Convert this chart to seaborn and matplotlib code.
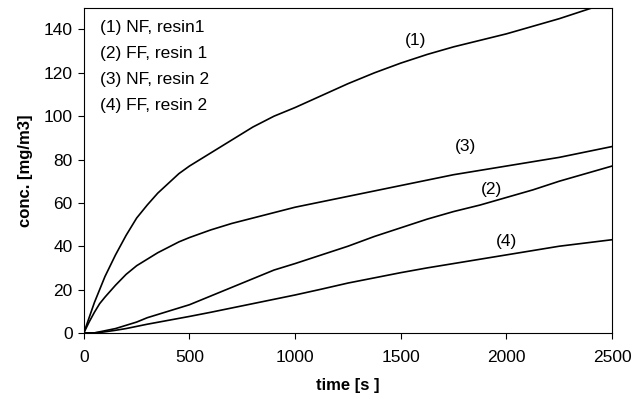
import numpy as np
import pandas as pd
import seaborn as sns
import matplotlib
matplotlib.use('Agg')
import matplotlib.pyplot as plt

# time points [s] and concentrations [mg/m3]
time = [0, 25, 50, 75, 100, 150, 200, 250, 300, 350, 400, 450, 500, 600, 700,
        800, 900, 1000, 1125, 1250, 1375, 1500, 1625, 1750, 1875, 2000, 2125,
        2250, 2375, 2500]
nf_resin1 = [0, 7, 14, 20, 26, 36, 45, 53, 59, 64.5, 69, 73.5, 77, 83, 89,
             95, 100, 104, 109.5, 115, 120, 124.5, 128.5, 132, 135, 138, 141.5,
             145, 149, 153]
ff_resin1 = [0, 0, 0, 0.5, 1, 2, 3.5, 5, 7, 8.5, 10, 11.5, 13, 17, 21,
             25, 29, 32, 36, 40, 44.5, 48.5, 52.5, 56, 59, 62.5, 66,
             70, 73.5, 77]
nf_resin2 = [0, 5, 9.5, 13.5, 16.5, 22, 27, 31, 34, 37, 39.5, 42, 44, 47.5, 50.5,
             53, 55.5, 58, 60.5, 63, 65.5, 68, 70.5, 73, 75, 77, 79,
             81, 83.5, 86]
ff_resin2 = [0, 0, 0, 0.2, 0.5, 1.2, 2, 3, 4, 4.9, 5.8, 6.7, 7.6, 9.5, 11.5,
             13.5, 15.5, 17.5, 20.2, 23, 25.4, 27.8, 30, 32, 34, 36, 38,
             40, 41.5, 43]

series_names = ['(1) NF, resin1', '(2) FF, resin 1', '(3) NF, resin 2', '(4) FF, resin 2']
curve_tags = ['(1)', '(2)', '(3)', '(4)']
tag_pos = [(1570, 135), (1930, 66), (1805, 86), (2000, 42)]

df = pd.DataFrame({
    'time': time * 4,
    'conc': nf_resin1 + ff_resin1 + nf_resin2 + ff_resin2,
    'series': np.repeat(series_names, len(time)),
})

sns.set_theme(style='ticks')
plt.rcParams['font.family'] = ['Liberation Sans', 'DejaVu Sans']
plt.rcParams['text.color'] = 'black'
plt.rcParams['axes.labelcolor'] = 'black'
plt.rcParams['xtick.color'] = 'black'
plt.rcParams['ytick.color'] = 'black'

fig = plt.figure(figsize=(6.35, 4.12), dpi=100)
ax = fig.add_axes([0.132, 0.192, 0.832, 0.789])

sns.lineplot(data=df, x='time', y='conc', units='series', estimator=None,
             color='black', linewidth=1.2, legend=False, ax=ax)

ax.set_xlim(0, 2500)
ax.set_ylim(0, 150)
ax.set_xticks(range(0, 2501, 500))
ax.set_yticks(range(0, 141, 20))
ax.tick_params(labelsize=12.5, length=4, color='black', width=0.8, pad=4)
ax.tick_params(axis='x', pad=8)
for s in ax.spines.values():
    s.set_visible(True)
    s.set_color('black')
    s.set_linewidth(0.8)

ax.set_xlabel('time [s ]', fontsize=12, fontweight='bold', labelpad=10)
ax.set_ylabel('conc. [mg/m3]', fontsize=12, fontweight='bold', labelpad=8)

for i, name in enumerate(series_names):
    ax.text(0.03, 0.94 - i * 0.08, name, transform=ax.transAxes,
            fontsize=12.5, va='center', ha='left')

for tag, (tx, ty) in zip(curve_tags, tag_pos):
    ax.text(tx, ty, tag, fontsize=12.5, ha='center', va='center')

fig.savefig('out.png', dpi=100)
